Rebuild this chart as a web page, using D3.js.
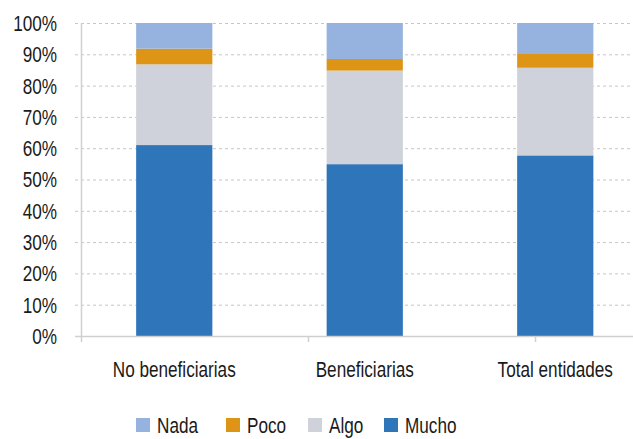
<!DOCTYPE html>
<html>
<head>
<meta charset="utf-8">
<script src="https://cdn.jsdelivr.net/npm/d3@7"></script>
<style>
  body { margin: 0; background: #fff; }
  text { font-family: "Liberation Sans", Arial, sans-serif; fill: #1a1a1a; font-size: 22px; }
</style>
</head>
<body>
<div id="viz"></div>
<script>
// data (shares, %)
var categories = ['No beneficiarias', 'Beneficiarias', 'Total entidades'];
var series = ['Mucho', 'Algo', 'Poco', 'Nada'];
var mucho = [61.0, 54.9, 57.7];
var algo  = [25.8, 29.9, 28.0];
var poco  = [5.0, 3.7, 4.4];
var nada  = [8.2, 11.5, 9.9];
var yTicks = [0, 10, 20, 30, 40, 50, 60, 70, 80, 90, 100];
var legendOrder = ['Nada', 'Poco', 'Algo', 'Mucho'];

var colors = {Mucho: '#2e75b9', Algo: '#cfd2da', Poco: '#de9516', Nada: '#95b3de'};

var width = 633, height = 439;
var margin = ({top: 23, right: 0, bottom: 103, left: 81});
var narrow = 0.78; // squeeze to fake a condensed face

var rows = categories.map(function(c, i) {
  return {cat: c, Mucho: mucho[i], Algo: algo[i], Poco: poco[i], Nada: nada[i]};
});
var stacked = d3.stack().keys(series)(rows);

var svg = d3.select('#viz')
  .append('svg')
  .attr('width', width)
  .attr('height', height);

var y = d3.scaleLinear()
  .domain([0, 100])
  .range([height - margin.bottom, margin.top]);

// bars sit in their own band scale
var x = d3.scaleBand()
  .domain(categories)
  .range([79, 650.5])
  .paddingInner(0.6)
  .paddingOuter(0.3);

// category boundaries (axis ticks) run wider than the picture
var xCat = d3.scaleBand()
  .domain(categories)
  .range([margin.left, margin.left + 3 * 227]);

// grid
svg.append('g')
  .selectAll('line')
  .data(yTicks.filter(function(d) { return d > 0; }))
  .join('line')
  .attr('x1', margin.left - 6)
  .attr('x2', width)
  .attr('y1', d => y(d) + 0.5)
  .attr('y2', d => y(d) + 0.5)
  .attr('stroke', '#c6c6c6')
  .attr('stroke-width', 1)
  .attr('stroke-dasharray', '3,3');

// bars
svg.append('g')
  .selectAll('g')
  .data(stacked)
  .join('g')
  .attr('fill', d => colors[d.key])
  .selectAll('rect')
  .data(d => d)
  .join('rect')
  .attr('x', d => x(d.data.cat))
  .attr('width', x.bandwidth())
  .attr('y', d => y(d[1]))
  .attr('height', d => y(d[0]) - y(d[1]));

// axes lines
svg.append('line')
  .attr('x1', margin.left + 0.5).attr('x2', margin.left + 0.5)
  .attr('y1', y(100)).attr('y2', y(0) + 6)
  .attr('stroke', '#d0d0d0').attr('stroke-width', 1.5);

svg.append('line')
  .attr('x1', margin.left - 6).attr('x2', width)
  .attr('y1', y(0) + 0.5).attr('y2', y(0) + 0.5)
  .attr('stroke', '#d0d0d0').attr('stroke-width', 1.5);

svg.append('g')
  .selectAll('line')
  .data(categories.slice(1))
  .join('line')
  .attr('x1', d => xCat(d) + 0.5)
  .attr('x2', d => xCat(d) + 0.5)
  .attr('y1', y(0))
  .attr('y2', y(0) + 6)
  .attr('stroke', '#d0d0d0').attr('stroke-width', 1.5);

// y labels
svg.append('g')
  .selectAll('text')
  .data(yTicks)
  .join('text')
  .attr('transform', d => 'translate(57,' + y(d) + ') scale(' + narrow + ',1)')
  .attr('dy', '0.36em')
  .attr('text-anchor', 'end')
  .text(d => d + '%');

// x labels
svg.append('g')
  .selectAll('text')
  .data(categories)
  .join('text')
  .attr('transform', d => 'translate(' + (x(d) + x.bandwidth() / 2) + ',377) scale(' + narrow + ',1)')
  .attr('text-anchor', 'middle')
  .text(d => d);

// legend (nudged up a little so the descenders stay inside)
var legendX = d3.scaleOrdinal()
  .domain(legendOrder)
  .range([136, 226, 308, 384]);

var legend = svg.append('g')
  .selectAll('g')
  .data(legendOrder)
  .join('g')
  .attr('transform', d => 'translate(' + legendX(d) + ',418)');

legend.append('rect')
  .attr('width', 14)
  .attr('height', 14)
  .attr('fill', d => colors[d]);

legend.append('text')
  .attr('transform', 'translate(21,14.5) scale(' + narrow + ',1)')
  .text(d => d);
</script>
</body>
</html>
